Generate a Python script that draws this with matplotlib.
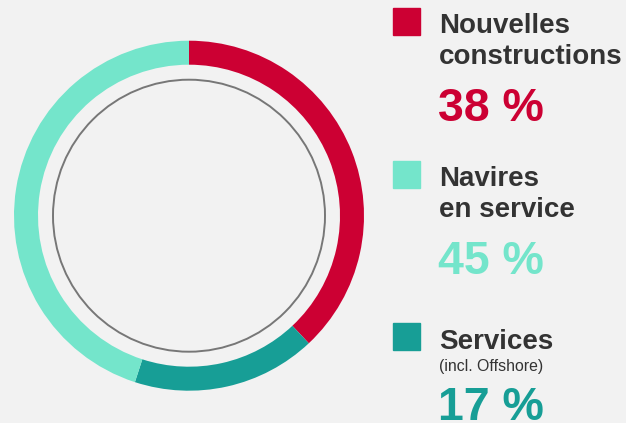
import matplotlib
matplotlib.use('Agg')
import matplotlib.pyplot as plt
from matplotlib.patches import Circle

# data
labels = ["Nouvelles\nconstructions", "Navires\nen service", "Services"]
sublabels = ["", "", "(incl. Offshore)"]
values = [38, 45, 17]
colors = ["#cc0033", "#74e5cb", "#179e96"]

# ring order clockwise from top: new builds, services, vessels in service
ring_order = [0, 2, 1]

W, H = 626, 423
bg = "#f2f2f2"
plt.rcParams['font.family'] = ['Liberation Sans', 'DejaVu Sans']

fig = plt.figure(figsize=(W / 100, H / 100), dpi=100, facecolor=bg)

# donut axes: center (189, 215.7) px, radius 175 px
cx, cy, r = 189, 215.7, 175
half = 185
ax = fig.add_axes([(cx - half) / W, (H - cy - half) / H, 2 * half / W, 2 * half / H])
ax.set_facecolor(bg)

ax.pie([values[i] for i in ring_order], colors=[colors[i] for i in ring_order],
       startangle=90, counterclock=False, radius=1.0,
       wedgeprops=dict(width=24 / r, linewidth=0))
ax.add_patch(Circle((0, 0), 136 / r, fill=False, edgecolor="#777777", linewidth=1.4))
ax.set_xlim(-half / r, half / r)
ax.set_ylim(-half / r, half / r)
ax.set_aspect('equal')
ax.axis('off')


def px(x, y):
    return x / W, 1 - y / H


# legend blocks: (square top, first baseline)
sq_tops = [8, 161, 323]
base1 = [33, 186, 349]
text_x = 439
dark = "#333333"

for i in range(3):
    fig.patches.append(plt.Rectangle(px(393, sq_tops[i] + 27), 27 / W, 27 / H,
                                     transform=fig.transFigure, color=colors[i]))
    lines = labels[i].split("\n")
    y = base1[i]
    for ln in lines:
        fig.text(*px(text_x, y), ln, fontsize=20, fontweight='bold', color=dark,
                 va='baseline', ha='left')
        y += 31
    if sublabels[i]:
        fig.text(*px(text_x, 371), sublabels[i], fontsize=11.4, color=dark,
                 va='baseline', ha='left')
        y = 420
    else:
        y = y - 31 + 57
    fig.text(*px(text_x - 1, y), f"{values[i]} %", fontsize=33.5, fontweight='bold',
             color=colors[i], va='baseline', ha='left')

fig.savefig("out.png", dpi=100, facecolor=bg)
